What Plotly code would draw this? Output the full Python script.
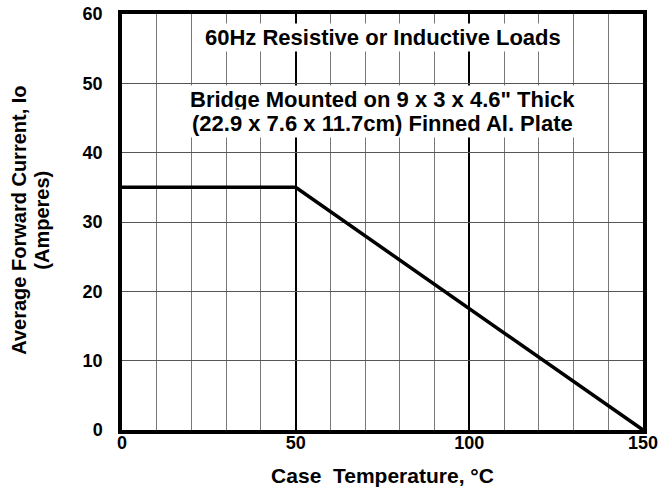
import plotly.graph_objects as go

# Data
case_temp = [0, 50, 150]
avg_current = [35, 35, 0]
x_ticks = [0, 50, 100, 150]
y_ticks = [0, 10, 20, 30, 40, 50, 60]

FONT = "Liberation Sans, Arial, sans-serif"

fig = go.Figure()
fig.add_trace(go.Scatter(
    x=case_temp, y=avg_current, mode="lines",
    line=dict(color="black", width=3.5), showlegend=False, hoverinfo="skip",
))

fig.update_layout(
    width=660, height=493,
    margin=dict(l=122, r=17, t=14, b=63),
    paper_bgcolor="white", plot_bgcolor="white",
    font=dict(family=FONT, color="black", size=18, weight="bold"),
    xaxis=dict(
        range=[0, 150], tickvals=x_ticks, ticktext=[str(v) for v in x_ticks],
        showgrid=True, gridcolor="black", gridwidth=2,
        minor=dict(dtick=10, showgrid=True, gridcolor="#777777", gridwidth=1, ticks=""),
        showline=True, linecolor="black", linewidth=3.5, mirror=True,
        ticks="", zeroline=False, automargin=False, ticklabelstandoff=-6,
        ticklabeloverflow="allow",
        tickfont=dict(family=FONT, size=18, weight="bold"),
        title=dict(text="Case  Temperature, °C", standoff=17,
                   font=dict(family=FONT, size=21, weight="bold")),
    ),
    yaxis=dict(
        range=[0, 60], tickvals=y_ticks, ticktext=[str(v) for v in y_ticks],
        showgrid=True, gridcolor="#555555", gridwidth=1,
        showline=True, linecolor="black", linewidth=3.5, mirror=True,
        ticks="", zeroline=False, ticklabelstandoff=12, automargin=False,
        ticklabeloverflow="allow",
        tickfont=dict(family=FONT, size=18, weight="bold"),
    ),
    annotations=[
        dict(x=-0.198, y=0.505, xref="paper", yref="paper", showarrow=False,
             xanchor="center", yanchor="middle",
             textangle=-90, text="Average Forward Current, Io",
             font=dict(family=FONT, size=20, weight="bold")),
        dict(x=-0.154, y=0.505, xref="paper", yref="paper", showarrow=False,
             xanchor="center", yanchor="middle",
             textangle=-90, text="(Amperes)",
             font=dict(family=FONT, size=20, weight="bold")),
        dict(x=75, y=56.6, xref="x", yref="y", showarrow=False,
             text="60Hz Resistive or Inductive Loads",
             font=dict(family=FONT, size=22, weight="bold"), bgcolor="white"),
        dict(x=75, y=47.6, xref="x", yref="y", showarrow=False,
             text="Bridge Mounted on 9 x 3 x 4.6\" Thick",
             font=dict(family=FONT, size=22, weight="bold"), bgcolor="white"),
        dict(x=75, y=44.2, xref="x", yref="y", showarrow=False,
             text="(22.9 x 7.6 x 11.7cm) Finned Al. Plate",
             font=dict(family=FONT, size=22, weight="bold"), bgcolor="white"),
    ],
)

fig.write_html(
    "out.html",
    config={"displayModeBar": False},
    post_script="document.body.style.margin='0';document.body.style.overflow='hidden';",
)
